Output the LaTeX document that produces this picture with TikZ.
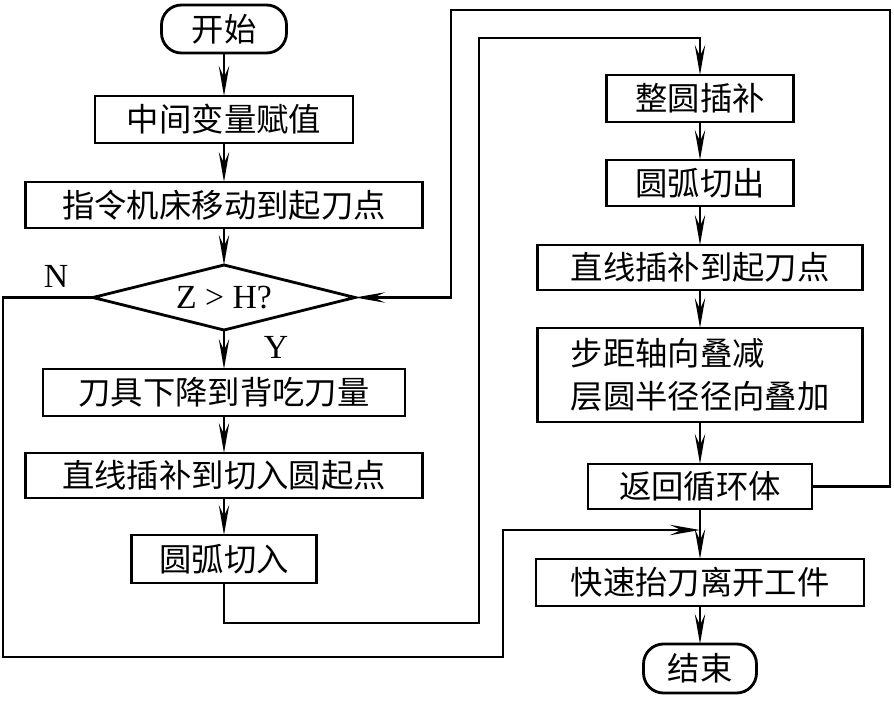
\documentclass[tikz,border=0pt]{standalone}
\usepackage{fontspec}
\setmainfont{Liberation Serif}
\newfontfamily\cjk{Noto Sans CJK SC}
\usepackage{tikz}
\usetikzlibrary{arrows.meta,positioning,shapes}

\begin{document}
\begin{tikzpicture}[line width=2pt, >={Stealth[length=0.75cm,width=0.26cm,inset=0.28cm]}]

\tikzstyle{block} = [draw, rectangle, inner sep=0pt, outer sep=0pt, font=\cjk\fontsize{23}{30.5}\selectfont]
\tikzstyle{terminal} = [block, rounded corners=0.5cm]
\tikzstyle{yesno} = [font=\fontsize{24}{28}\selectfont]

\useasboundingbox (0,0) rectangle (22.35,-17.525);

\node [terminal, minimum width=3.125cm, minimum height=1.2cm] (start) at (5.6,-0.725) {开始};
\node [block, below = 1.075cm of start, minimum width=6.45cm, minimum height=1.175cm] (init) {中间变量赋值};
\node [block, below = 0.975cm of init, minimum width=9.925cm, minimum height=1.15cm] (move) {指令机床移动到起刀点};
\node [draw, diamond, aspect=4, inner sep=0pt, outer sep=0pt, minimum width=6.55cm, minimum height=1.625cm, below = 0.925cm of move, font=\fontsize{24}{28}\selectfont] (test) {Z > H?};
\node [block, below = 0.975cm of test, minimum width=9.05cm, minimum height=1.175cm] (down) {刀具下降到背吃刀量};
\node [block, below = 0.925cm of down, minimum width=9.925cm, minimum height=1.125cm] (line) {直线插补到切入圆起点};
\node [block, below = 0.925cm of line, minimum width=4.625cm, minimum height=1.2cm] (arcin) {圆弧切入};

\node [block, minimum width=4.675cm, minimum height=1.175cm] (full) at (17.5,-2.4625) {整圆插补};
\node [block, below = 0.95cm of full, minimum width=4.675cm, minimum height=1.15cm] (arcout) {圆弧切出};
\node [block, below = 0.975cm of arcout, minimum width=8.125cm, minimum height=1.125cm] (back) {直线插补到起刀点};
\node [block, below = 0.95cm of back, minimum width=8.125cm, minimum height=2.35cm, align=left] (step) {步距轴向叠减\\层圆半径径向叠加};
\node [block, below = 1.05cm of step, minimum width=5.6cm, minimum height=1.125cm] (ret) {返回循环体};
\node [block, below = 1.25cm of ret, minimum width=8.2cm, minimum height=1.175cm] (lift) {快速抬刀离开工件};
\node [terminal, below = 0.95cm of lift, minimum width=2.825cm, minimum height=1.225cm] (end) {结束};

\node [yesno] (no) at (1.4,-6.9) {N};
\node [yesno] (yes) at (6.9,-8.675) {Y};

\coordinate (a1) at (11.975,-15.575);
\coordinate (a2) at (17.5,-0.95);
\coordinate (b1) at (22.25,-0.25);
\coordinate (b2) at (11.275,-0.25);
\coordinate (d1) at (0.075,-16.425);
\coordinate (d2) at (12.575,-13.25);
\coordinate (merge) at (17.5,-13.25);

\draw [->] (start) -- (init);
\draw [->] (init) -- (move);
\draw [->] (move) -- (test);
\draw [->] (test) -- (down);
\draw [->] (down) -- (line);
\draw [->] (line) -- (arcin);
\draw [->] (full) -- (arcout);
\draw [->] (arcout) -- (back);
\draw [->] (back) -- (step);
\draw [->] (step) -- (ret);
\draw [->] (ret) -- (lift);
\draw [->] (lift) -- (end);
\draw [->] (arcin.south) |- (a1) |- (a2) -- (full.north);
\draw [->] (ret.east) -| (b1) -- (b2) |- (test.east);
\draw [->] (test.west) -| (d1) -| (d2) -- (merge);
\end{tikzpicture}
\end{document}
